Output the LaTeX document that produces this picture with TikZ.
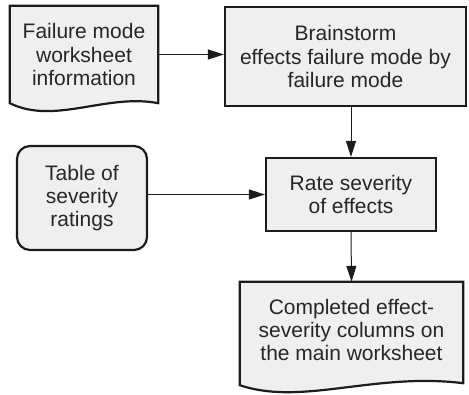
\documentclass[tikz,border=0pt]{standalone}
\usepackage{fontspec}
\setmainfont{Liberation Sans}
\usetikzlibrary{arrows.meta,calc,backgrounds}
\definecolor{boxfill}{HTML}{EFEFEF}
\definecolor{inkline}{HTML}{1C1C1C}
\definecolor{inktext}{HTML}{262626}
\tikzset{
  label text/.style={align=center, text=inktext, font=\fontsize{21}{23.3}\selectfont, inner sep=0pt},
  stepbox/.style={label text, draw=inkline, line width=2.2pt, fill=boxfill},
  roundbox/.style={stepbox, rounded corners=13pt},
  docarea/.style={label text},
  docline/.style={draw=inkline, line width=2.2pt, fill=boxfill, line join=miter},
  flow/.style={draw=inkline, line width=1pt, -{Triangle[length=16pt,width=10pt]}}
}
\begin{document}
\begin{tikzpicture}[x=1pt,y=-1pt]
\useasboundingbox (0,0) rectangle (469,395);

% process boxes
\node[stepbox, minimum width=241pt, minimum height=99pt] (brain) at (345.5,56.5)
  {Brainstorm\\effects failure mode by\\failure mode};
\node[stepbox, minimum width=170pt, minimum height=73pt] (rate) at (351,194.5)
  {Rate severity\\of effects};
\node[roundbox, minimum width=130pt, minimum height=104pt] (table) at (82,198)
  {Table of\\severity\\ratings};

% document shapes (outline drawn behind the text)
\node[docarea, minimum width=148pt, minimum height=97pt] (doc1) at (84,54.5)
  {Failure mode\\worksheet\\information};
\node[docarea, minimum width=223pt, minimum height=102pt] (doc2) at (351.5,333)
  {\raisebox{5pt}{\begin{tabular}{@{}c@{}}Completed effect-\\severity columns on\\the main worksheet\end{tabular}}};

\begin{scope}[on background layer]
  \path[docline] (doc1.north west) -- (doc1.north east) -- (doc1.south east)
    .. controls ($(doc1.south west)!0.65!(doc1.south east)+(0,-10)$)
            and ($(doc1.south west)!0.3!(doc1.south east)+(0,22)$) .. (doc1.south west) -- cycle;
  \path[docline] (doc2.north west) -- (doc2.north east) -- ($(doc2.south east)+(0,-1)$)
    .. controls ($(doc2.south west)!0.6!(doc2.south east)+(0,-12)$)
            and ($(doc2.south west)!0.28!(doc2.south east)+(0,22)$) .. ($(doc2.south west)+(0,1)$) -- cycle;
\end{scope}

% connectors
\draw[flow] (doc1.east) -- (doc1.east -| brain.west);
\draw[flow] (brain.south -| rate.north) -- (rate.north);
\draw[flow] (table.east |- rate.west) -- (rate.west);
\draw[flow] (rate.south) -- (doc2.north);
\end{tikzpicture}
\end{document}
